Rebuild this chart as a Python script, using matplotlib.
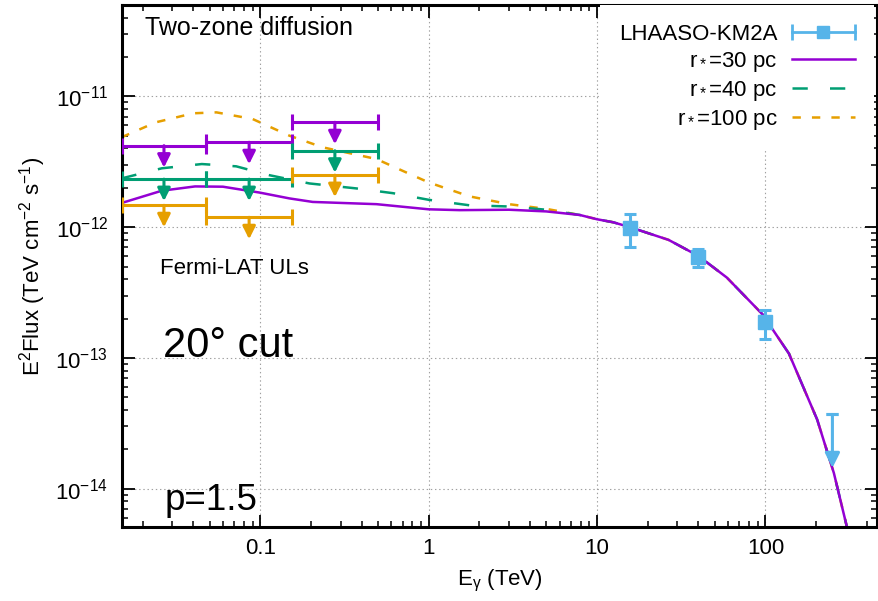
"""
Two-zone diffusion model vs LHAASO-KM2A / Fermi-LAT upper limits
"""

import numpy as np
import matplotlib
matplotlib.use('Agg')
import matplotlib.pyplot as plt
from matplotlib.lines import Line2D
from matplotlib.legend_handler import HandlerBase
from matplotlib.ticker import LogLocator, FixedLocator, FixedFormatter, NullFormatter

plt.rcParams['font.family'] = ['Liberation Sans', 'DejaVu Sans']
plt.rcParams['mathtext.fontset'] = 'custom'
plt.rcParams['mathtext.rm'] = 'Liberation Sans'
plt.rcParams['mathtext.it'] = 'Liberation Sans:italic'
plt.rcParams['mathtext.bf'] = 'Liberation Sans:bold'
plt.rcParams['lines.scale_dashes'] = False

# colours (gnuplot default palette)
PURPLE = '#9400d3'
GREEN = '#009e73'
BLUE = '#56b4e9'
ORANGE = '#e69f00'

# model curves, low energy part (TeV, TeV cm^-2 s^-1)
e_r30 = [0.015, 0.026, 0.041, 0.060, 0.099, 0.149, 0.205, 0.49, 1.0, 1.53, 3.0, 5.0]
f_r30 = [1.53e-12, 1.90e-12, 2.05e-12, 2.04e-12, 1.84e-12, 1.66e-12, 1.56e-12,
         1.50e-12, 1.37e-12, 1.35e-12, 1.36e-12, 1.32e-12]
e_r40 = [0.015, 0.026, 0.045, 0.072, 0.113, 0.196, 0.371, 0.614, 1.0, 1.75, 3.0, 5.0]
f_r40 = [2.36e-12, 2.82e-12, 3.04e-12, 2.92e-12, 2.50e-12, 2.16e-12, 1.98e-12,
         1.82e-12, 1.62e-12, 1.47e-12, 1.44e-12, 1.36e-12]
e_r100 = [0.015, 0.024, 0.040, 0.055, 0.090, 0.149, 0.235, 0.49, 0.70, 1.0, 1.75, 3.0, 5.0]
f_r100 = [4.87e-12, 6.34e-12, 7.43e-12, 7.55e-12, 6.72e-12, 5.01e-12, 4.08e-12,
          3.32e-12, 2.70e-12, 2.20e-12, 1.72e-12, 1.50e-12, 1.38e-12]

# shared high energy tail (all three models coincide)
e_tail = [7.9, 10, 12.5, 15.7, 26.6, 40, 59, 96, 138, 203, 255, 306]
f_tail = [1.24e-12, 1.15e-12, 1.09e-12, 1.00e-12, 8.0e-13, 6.03e-13, 4.12e-13,
          2.16e-13, 1.08e-13, 3.38e-14, 1.32e-14, 5.0e-15]

# LHAASO-KM2A
lhaaso_e = [15.8, 40, 100]
lhaaso_f = [0.98e-12, 5.92e-13, 1.88e-13]
lhaaso_hi = [1.26e-12, 6.78e-13, 2.32e-13]
lhaaso_lo = [0.70e-12, 4.97e-13, 1.40e-13]
lhaaso_ul_e = [250]
lhaaso_ul_f = [3.7e-14]

# Fermi-LAT upper limits
fermi_edges = [0.015, 0.0479, 0.154, 0.5]
fermi_ul_r30 = [4.20e-12, 4.46e-12, 6.34e-12]
fermi_ul_r40 = [2.33e-12, 2.33e-12, 3.84e-12]
fermi_ul_r100 = [1.47e-12, 1.19e-12, 2.50e-12]

x_ticks = [0.1, 1, 10, 100]
x_ticklabels = ['0.1', '1', '10', '100']
y_ticks = [1e-14, 1e-13, 1e-12, 1e-11]


class ErrorbarKey(HandlerBase):
    """gnuplot-like key sample: horizontal bar with caps and a square"""
    def create_artists(self, legend, orig_handle, xdescent, ydescent,
                       width, height, fontsize, trans):
        c = orig_handle.get_color()
        y = (height - ydescent) / 2
        x0, x1 = -xdescent, width - xdescent
        bar = Line2D([x0, x1], [y, y], color=c, lw=2)
        caps = Line2D([x0, x1], [y, y], ls='none', marker='|', ms=11, mew=2, color=c)
        box = Line2D([(x0 + x1) / 2], [y], ls='none', marker='s', ms=9, color=c)
        for a in (bar, caps, box):
            a.set_transform(trans)
        return [bar, caps, box]


fig = plt.figure(figsize=(8.79, 6.01), dpi=100)
ax = fig.add_axes([122 / 879, 1 - 527 / 601, 755 / 879, 522 / 601])
ax.set_xscale('log')
ax.set_yscale('log')
ax.set_xlim(0.0151, 460)
ax.set_ylim(5.1e-15, 5.0e-11)

# model curves
l100, = ax.plot(e_r100 + e_tail, f_r100 + f_tail, color=ORANGE, lw=1.8, dashes=(6, 8))
l40, = ax.plot(e_r40 + e_tail, f_r40 + f_tail, color=GREEN, lw=1.8, dashes=(11, 16))
l30, = ax.plot(e_r30 + e_tail, f_r30 + f_tail, color=PURPLE, lw=1.8)

# Fermi-LAT ULs
edges = np.array(fermi_edges)
centers = np.sqrt(edges[:-1] * edges[1:])
xerr = [centers - edges[:-1], edges[1:] - centers]
for ul, c in [(fermi_ul_r30, PURPLE), (fermi_ul_r40, GREEN), (fermi_ul_r100, ORANGE)]:
    ax.errorbar(centers, ul, xerr=xerr, fmt='none', ecolor=c, elinewidth=2.2,
                capsize=5.5, capthick=2.2, zorder=3)
    for x, y in zip(centers, ul):
        ax.annotate('', xy=(x, y * 0.68), xytext=(x, y),
                    arrowprops=dict(arrowstyle='-|>', color=c, lw=2.2,
                                    mutation_scale=19, shrinkA=0, shrinkB=0),
                    zorder=3)

# LHAASO-KM2A
lf = np.array(lhaaso_f)
yerr = [lf - np.array(lhaaso_lo), np.array(lhaaso_hi) - lf]
ax.errorbar(lhaaso_e, lhaaso_f, yerr=yerr, fmt='s', color=BLUE, ms=9.5,
            elinewidth=2.2, capsize=4.5, capthick=2.2, zorder=4)
ax.errorbar(lhaaso_ul_e, lhaaso_ul_f, yerr=[[0], [0]], fmt='none', ecolor=BLUE,
            elinewidth=2.2, capsize=4.5, capthick=2.2, zorder=4)
for x, y in zip(lhaaso_ul_e, lhaaso_ul_f):
    ax.annotate('', xy=(x, y * 0.39), xytext=(x, y),
                arrowprops=dict(arrowstyle='-|>', color=BLUE, lw=2.2,
                                mutation_scale=22, shrinkA=0, shrinkB=0),
                zorder=4)

# axes styling
ax.set_axisbelow(True)
ax.grid(True, which='major', color='#a0a0a0', ls=(0, (1, 2)), lw=0.8)
ax.xaxis.set_major_locator(FixedLocator(x_ticks))
ax.xaxis.set_major_formatter(FixedFormatter(x_ticklabels))
ax.xaxis.set_minor_locator(LogLocator(base=10, subs=np.arange(2, 10), numticks=20))
ax.xaxis.set_minor_formatter(NullFormatter())
ax.yaxis.set_major_locator(FixedLocator(y_ticks))
ax.yaxis.set_minor_locator(LogLocator(base=10, subs=np.arange(2, 10), numticks=20))
ax.yaxis.set_minor_formatter(NullFormatter())
ax.tick_params(which='both', direction='in', top=True, right=True, labelsize=16)
ax.tick_params(which='major', length=9, width=1.3)
ax.tick_params(which='minor', length=4.5, width=1.1)
ax.tick_params(axis='x', pad=8)
ax.tick_params(axis='y', pad=10)
for s in ax.spines.values():
    s.set_linewidth(2.2)

ax.set_xlabel(r'E$_\mathrm{γ}$ (TeV)', fontsize=16, labelpad=6)
ax.set_ylabel(r'E$^2$Flux (TeV cm$^{-2}$ s$^{-1}$)', fontsize=16, labelpad=5)

# annotations
ax.text(0.0305, 0.9425, 'Two-zone diffusion', fontsize=18, transform=ax.transAxes, va='baseline')
ax.text(0.0503, 0.4847, 'Fermi-LAT ULs', fontsize=16, transform=ax.transAxes, va='baseline')
ax.text(0.0543, 0.3257, '20° cut', fontsize=30, transform=ax.transAxes, va='baseline')
ax.text(0.0570, 0.0326, 'p=1.5', fontsize=26.5, transform=ax.transAxes, va='baseline')

# legend
key_lhaaso = Line2D([], [], color=BLUE)
leg = ax.legend([key_lhaaso, l30, l40, l100],
                ['LHAASO-KM2A', r'r$_*$=30 pc', r'r$_*$=40 pc', r'r$_*$=100 pc'],
                handler_map={key_lhaaso: ErrorbarKey()},
                loc='upper right', bbox_to_anchor=(0.996, 1.0), borderaxespad=0,
                borderpad=0.85, markerfirst=False, fontsize=16, handlelength=2.85,
                handletextpad=0.63, labelspacing=0.22, frameon=True, fancybox=False,
                framealpha=1, facecolor='white', edgecolor='none')
leg.set_zorder(5)

fig.savefig('out.png', dpi=100)
